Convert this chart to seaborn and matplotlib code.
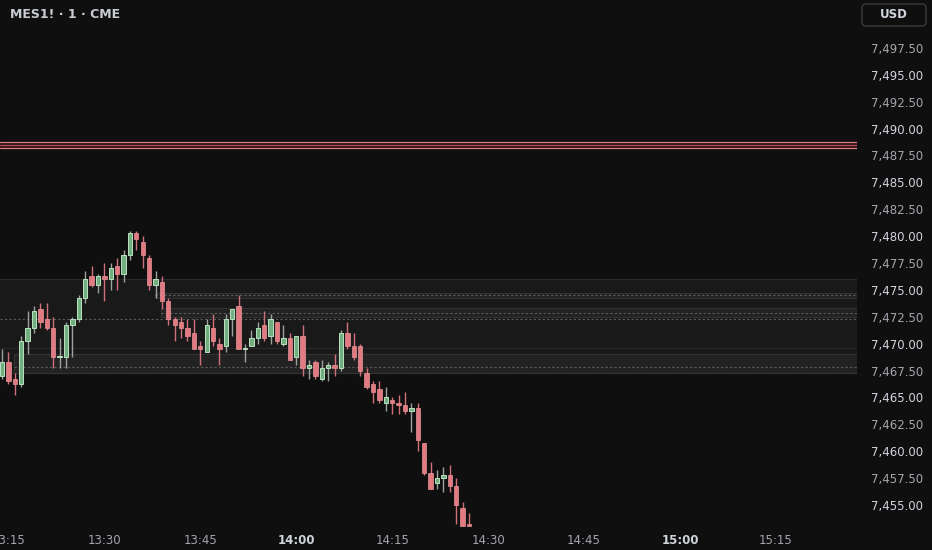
import matplotlib
matplotlib.use("Agg")
import matplotlib.pyplot as plt
import matplotlib.ticker as mticker
from matplotlib.patches import FancyBboxPatch
from matplotlib.transforms import IdentityTransform
import numpy as np
import pandas as pd
import seaborn as sns

# MES1! 1-minute bars, first bar at 13:14
start_minute = 14  # minutes after 13:00
opens = [7467.0, 7468.25, 7466.75, 7466.25, 7470.25, 7471.5, 7473.25, 7472.25, 7471.5, 7468.75,
         7468.75, 7471.75, 7472.25, 7474.25, 7476.25, 7475.5, 7476.25, 7476.0, 7477.25, 7476.5,
         7478.25, 7480.25, 7479.5, 7478.0, 7475.5, 7475.75, 7474.0, 7472.25, 7472.0, 7471.5,
         7471.0, 7469.75, 7469.25, 7471.5, 7470.0, 7469.75, 7472.25, 7473.5, 7469.5, 7469.75,
         7470.5, 7471.75, 7470.75, 7472.0, 7470.0, 7470.5, 7468.75, 7470.75, 7467.75, 7468.25,
         7466.75, 7467.75, 7468.0, 7467.75, 7471.0, 7469.75, 7469.75, 7467.25, 7466.25, 7465.75,
         7464.5, 7464.75, 7464.5, 7464.25, 7463.75, 7464.0, 7460.75, 7458.0, 7457.0, 7457.5,
         7457.75, 7456.75, 7454.75, 7453.25]
highs = [7469.5, 7469.25, 7467.25, 7470.75, 7473.0, 7473.5, 7473.75, 7473.75, 7472.5, 7470.5,
         7472.0, 7472.5, 7474.5, 7476.75, 7477.25, 7476.5, 7477.5, 7477.5, 7478.0, 7478.75,
         7480.5, 7480.5, 7480.0, 7478.25, 7476.75, 7476.25, 7474.25, 7472.5, 7472.5, 7472.25,
         7472.25, 7470.25, 7472.25, 7472.75, 7470.5, 7472.75, 7473.25, 7474.5, 7470.0, 7471.25,
         7472.0, 7473.0, 7472.75, 7472.0, 7471.75, 7471.0, 7470.75, 7471.75, 7468.5, 7468.5,
         7468.5, 7468.25, 7469.0, 7471.25, 7472.0, 7471.0, 7470.0, 7467.75, 7466.5, 7466.5,
         7466.0, 7465.0, 7465.25, 7465.5, 7464.5, 7464.5, 7460.75, 7459.0, 7458.25, 7458.5,
         7458.75, 7457.5, 7455.25, 7454.25]
lows = [7466.75, 7466.25, 7465.25, 7466.0, 7469.0, 7471.0, 7471.5, 7471.25, 7467.75, 7467.75,
        7467.75, 7468.75, 7472.0, 7473.75, 7475.25, 7474.75, 7474.0, 7475.0, 7475.0, 7475.75,
        7477.75, 7478.75, 7477.0, 7475.0, 7474.25, 7473.25, 7471.75, 7470.25, 7470.5, 7470.25,
        7469.5, 7468.0, 7469.25, 7469.75, 7468.0, 7469.25, 7470.75, 7469.5, 7468.25, 7469.75,
        7470.0, 7470.25, 7470.0, 7470.0, 7469.75, 7468.5, 7468.0, 7467.0, 7466.75, 7466.75,
        7466.5, 7466.5, 7467.0, 7467.5, 7469.5, 7468.5, 7467.0, 7465.75, 7464.5, 7464.5,
        7463.75, 7463.5, 7463.5, 7463.5, 7461.75, 7460.0, 7457.75, 7456.5, 7456.5, 7456.25,
        7456.25, 7453.25, 7453.0, 7453.0]
closes = [7468.25, 7466.5, 7466.25, 7470.25, 7471.5, 7473.0, 7472.0, 7471.5, 7468.75, 7468.75,
          7471.75, 7472.25, 7474.25, 7476.0, 7475.5, 7476.25, 7476.0, 7477.0, 7476.5, 7478.25,
          7480.25, 7479.75, 7478.25, 7475.5, 7476.0, 7474.0, 7472.25, 7471.75, 7471.5, 7470.75,
          7469.5, 7469.5, 7471.75, 7470.25, 7469.5, 7472.25, 7473.25, 7469.5, 7469.5, 7470.5,
          7471.5, 7470.5, 7472.25, 7470.25, 7470.5, 7468.5, 7470.75, 7467.75, 7468.0, 7467.0,
          7467.75, 7468.0, 7467.75, 7471.0, 7469.75, 7468.75, 7467.5, 7466.0, 7465.5, 7464.75,
          7465.0, 7464.5, 7464.25, 7463.75, 7464.0, 7461.0, 7458.0, 7456.5, 7457.5, 7457.75,
          7456.75, 7455.0, 7453.0, 7453.0]

time_ticks = [15, 30, 45, 60, 75, 90, 105, 120, 135]
time_labels = ["13:15", "13:30", "13:45", "14:00", "14:15", "14:30", "14:45", "15:00", "15:15"]
price_ticks = [7455.0, 7457.5, 7460.0, 7462.5, 7465.0, 7467.5, 7470.0, 7472.5, 7475.0,
               7477.5, 7480.0, 7482.5, 7485.0, 7487.5, 7490.0, 7492.5, 7495.0, 7497.5]

# drawn levels
red_levels = [7488.78, 7488.5, 7488.22]
zone_top, zone_bottom = 7476.0, 7467.3
dashed_full = 7472.27
box_low = (7467.3, 7469.0, 7467.8, 15.9)      # bottom, top, dashed, start minute
box_a = (7474.28, 7474.75, 7474.53, 37.9)
box_b = (7472.51, 7473.29, 7472.83, 38.9)

df = pd.DataFrame({"open": opens, "high": highs, "low": lows, "close": closes})
df["minute"] = start_minute + np.arange(len(df))
df["up"] = df["close"] >= df["open"]

bg = "#0f0f0f"
sns.set_theme(style="dark", rc={"axes.facecolor": bg, "figure.facecolor": bg,
                                "savefig.facecolor": bg, "axes.grid": False})
plt.rcParams["font.family"] = ["DejaVu Sans"]

fig = plt.figure(figsize=(9.32, 5.5), dpi=100)
ax = fig.add_axes([0, 23 / 550, 857 / 932, 527 / 550])
ax.set_facecolor(bg)
x0, x1 = 13.69, 147.66
ax.set_xlim(x0, x1)
ax.set_ylim(7452.95, 7501.96)

# zones
ax.axhspan(zone_bottom, zone_top, color="#191919", zorder=0, lw=0)
ax.axhline(zone_top, color="#2a2a2a", lw=0.8, zorder=1)
ax.axhline(7469.57, color="#2a2a2a", lw=0.8, zorder=1)
ax.axhline(zone_bottom, color="#2a2a2a", lw=0.8, zorder=1)
ax.axhline(dashed_full, color="#5c5c5c", lw=0.8, ls=(0, (2, 2)), zorder=1)
for b, t, d, s in [box_low, box_a, box_b]:
    ax.fill_between([s, x1], b, t, color="#222222", lw=0, zorder=0.5)
    ax.hlines([b, t], s, x1, color="#333333", lw=0.8, zorder=1)
    ax.vlines(s, b, t, color="#333333", lw=0.8, zorder=1)
    ax.hlines(d, s, x1, color="#5c5c5c", lw=0.8, linestyles=(0, (2, 2)), zorder=1)

# red levels
ax.axhspan(red_levels[-1], red_levels[0], color="#2e1215", lw=0, zorder=1)
for lv, c in zip(red_levels, ["#dd7c84", "#b04e57", "#dd7c84"]):
    ax.axhline(lv, color=c, lw=0.9, zorder=2)

# candles
up = df[df["up"]]
dn = df[~df["up"]]
w = 0.68
ax.vlines(up["minute"], up["low"], up["high"], color="#9aa39c", lw=1.0, zorder=3)
ax.vlines(dn["minute"], dn["low"], dn["high"], color="#d0707a", lw=1.0, zorder=3)
ax.bar(up["minute"], np.maximum(up["close"] - up["open"], 0.06), bottom=up["open"], width=w,
       color="#72ae7f", edgecolor="#b9e2c0", lw=0.7, zorder=4)
ax.bar(dn["minute"], np.maximum(dn["open"] - dn["close"], 0.06), bottom=dn["close"], width=w,
       color="#e27a82", edgecolor="#eb939a", lw=0.5, zorder=4)

for s in ax.spines.values():
    s.set_visible(False)

ax.yaxis.tick_right()
ax.set_yticks(price_ticks)
ax.yaxis.set_major_formatter(mticker.FuncFormatter(lambda v, p: f"{v:,.2f}"))
ax.tick_params(axis="y", length=0, pad=10, labelsize=8.5, labelcolor="#a3a6ad")
for lab, v in zip(ax.get_yticklabels(), price_ticks):
    if v % 5 == 0:
        lab.set_color("#d1d4dc")

ax.set_xticks(time_ticks)
ax.set_xticklabels(time_labels)
ax.tick_params(axis="x", length=0, pad=5, labelsize=8.5, labelcolor="#a3a6ad")
for lab in ax.get_xticklabels():
    if lab.get_text() in ("14:00", "15:00"):
        lab.set_fontweight("bold")
        lab.set_color("#d1d4dc")

fig.text(10 / 932, 1 - 14 / 550, "MES1! · 1 · CME", ha="left", va="center",
         fontsize=9, fontweight="bold", color="#c9ccd3")

usd = FancyBboxPatch((862, 550 - 26), 64, 22, boxstyle="round,pad=0,rounding_size=4",
                     transform=IdentityTransform(), facecolor=bg, edgecolor="#3c3c3c", lw=1)
fig.add_artist(usd)
fig.text(894 / 932, 1 - 15 / 550, "USD", ha="center", va="center", fontsize=8.5,
         fontweight="bold", color="#d1d4dc")

fig.savefig("out.png", dpi=100)
